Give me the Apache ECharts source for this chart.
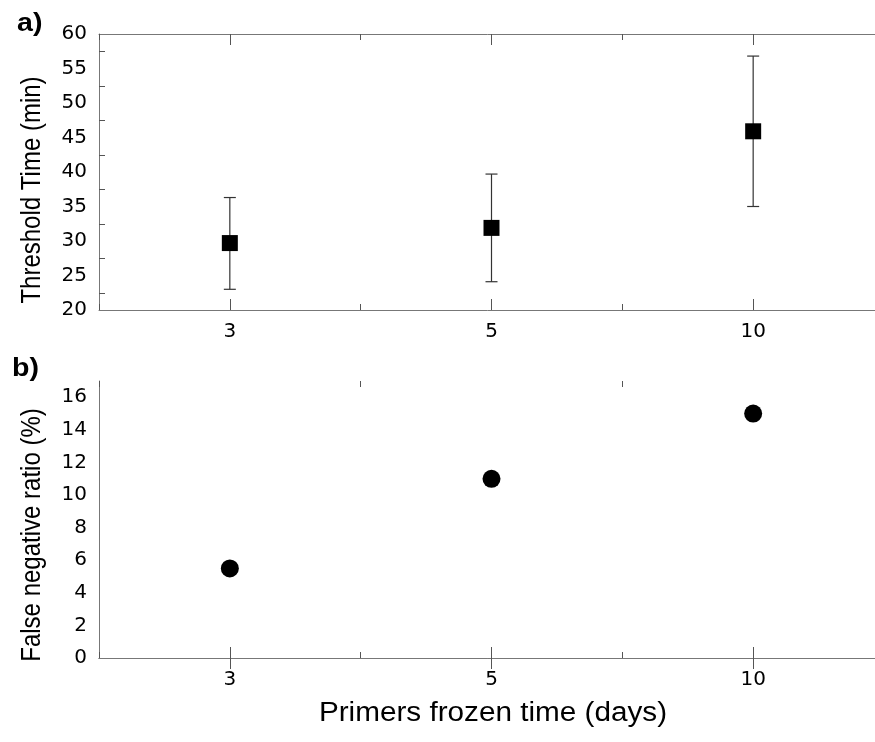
<!DOCTYPE html>
<html>
<head>
<meta charset="utf-8">
<script src="https://cdn.jsdelivr.net/npm/echarts@6/dist/echarts.min.js"></script>
<style>
html,body{margin:0;padding:0;background:#fff;overflow:hidden;}
#chart{width:875px;height:742px;}
</style>
</head>
<body>
<div id="chart"></div>
<script>
// ---- data ----
const categories = ['3', '5', '10'];
const thresholdMean = [29.7, 31.9, 45.9];
const thresholdLow = [23.0, 24.1, 35.0];
const thresholdHigh = [36.3, 39.7, 56.8];
const falseNegative = [5.5, 11.0, 15.0];
const panelLabels = ['a)', 'b)'];
const xTitle = 'Primers frozen time (days)';
const yTitles = ['Threshold Time (min)', 'False negative ratio (%)'];

// ---- build axis categories: boundary slots between the real categories ----
const axisCats = [];
categories.forEach((c, i) => { axisCats.push('gap' + i); axisCats.push(c); });
axisCats.push('gap' + categories.length);
const catIndex = i => 2 * i + 1;

const FONT = 'Liberation Sans, Arial, sans-serif';
const TICKFONT = 'DejaVu Sans, Liberation Sans, sans-serif';
const TICK = { color: '#555', width: 1 };
const FRAME = { show: true, lineStyle: { color: '#777', width: 1 } };
const isCat = i => i % 2 === 1;
const isGap = i => i % 2 === 0;

function xAxes(grid, withLabels) {
  const base = { gridIndex: grid, type: 'category', data: axisCats, boundaryGap: false,
    axisLine: { show: false }, splitLine: { show: false } };
  return [
    Object.assign({}, base, { position: 'bottom', axisLine: FRAME,
      axisTick: { inside: true, length: 11, interval: isCat, lineStyle: TICK },
      axisLabel: { show: withLabels, interval: isCat, fontSize: 20, color: '#000', margin: 12, fontFamily: TICKFONT } }),
    Object.assign({}, base, { position: 'bottom',
      axisTick: { inside: true, length: 6, interval: isGap, lineStyle: TICK }, axisLabel: { show: false } }),
    Object.assign({}, base, { position: 'top', axisLine: FRAME,
      axisTick: { inside: true, length: 11, interval: isCat, lineStyle: TICK }, axisLabel: { show: false } }),
    Object.assign({}, base, { position: 'top',
      axisTick: { inside: true, length: 6, interval: isGap, lineStyle: TICK }, axisLabel: { show: false } })
  ];
}

const yLabel = { fontSize: 20, color: '#000', margin: 12, fontFamily: TICKFONT };

const option = {
  backgroundColor: '#fff',
  animation: false,
  grid: [
    { left: 99, top: 34, width: 785, height: 276, show: false, outerBoundsMode: 'none', containLabel: false },
    { left: 99, top: 381, width: 785, height: 277, show: false, outerBoundsMode: 'none', containLabel: false }
  ],
  xAxis: [].concat(xAxes(0, true), xAxes(1, true)),
  yAxis: [
    { gridIndex: 0, type: 'value', min: 20, max: 60, interval: 5, position: 'left',
      axisLine: FRAME, splitLine: { show: false },
      axisTick: { inside: true, length: 11, lineStyle: TICK },
      minorTick: { show: true, splitNumber: 2, length: 6, lineStyle: TICK },
      axisLabel: yLabel },
    { gridIndex: 0, type: 'value', min: 20, max: 60, interval: 5, position: 'right',
      axisLine: { show: false }, splitLine: { show: false },
      axisTick: { inside: true, length: 11, lineStyle: TICK }, axisLabel: { show: false } },
    { gridIndex: 1, type: 'value', min: 0, max: 17, interval: 2, position: 'left',
      axisLine: FRAME, splitLine: { show: false },
      axisTick: { inside: true, length: 11, lineStyle: TICK },
      axisLabel: Object.assign({}, yLabel, { formatter: v => (v > 16 ? '' : String(v)) }) },
    { gridIndex: 1, type: 'value', min: 0, max: 17, interval: 1, position: 'left',
      axisLine: { show: false }, splitLine: { show: false },
      axisTick: { inside: true, length: 6, lineStyle: TICK }, axisLabel: { show: false } },
    { gridIndex: 1, type: 'value', min: 0, max: 17, interval: 2, position: 'right',
      axisLine: { show: false }, splitLine: { show: false },
      axisTick: { inside: true, length: 11, lineStyle: TICK }, axisLabel: { show: false } }
  ],
  series: [
    {
      type: 'custom', xAxisIndex: 0, yAxisIndex: 0, z: 2,
      data: categories.map((c, i) => [catIndex(i), thresholdLow[i], thresholdHigh[i]]),
      renderItem: function (params, api) {
        const x = api.value(0);
        const lo = api.coord([x, api.value(1)]);
        const hi = api.coord([x, api.value(2)]);
        const cap = 6;
        const st = { stroke: '#333', lineWidth: 1.2 };
        return { type: 'group', children: [
          { type: 'line', shape: { x1: lo[0], y1: lo[1], x2: hi[0], y2: hi[1] }, style: st },
          { type: 'line', shape: { x1: lo[0] - cap, y1: lo[1], x2: lo[0] + cap, y2: lo[1] }, style: st },
          { type: 'line', shape: { x1: hi[0] - cap, y1: hi[1], x2: hi[0] + cap, y2: hi[1] }, style: st }
        ] };
      }
    },
    {
      type: 'scatter', xAxisIndex: 0, yAxisIndex: 0, z: 3,
      symbol: 'rect', symbolSize: 16, itemStyle: { color: '#000', opacity: 1 },
      data: categories.map((c, i) => [catIndex(i), thresholdMean[i]])
    },
    {
      type: 'scatter', xAxisIndex: 4, yAxisIndex: 2, z: 3,
      symbol: 'circle', symbolSize: 18, itemStyle: { color: '#000', opacity: 1 },
      data: categories.map((c, i) => [catIndex(i), falseNegative[i]])
    }
  ],
  graphic: [
    { type: 'text', x: 17, y: 11, scaleX: 1.1, style: { text: panelLabels[0], fontSize: 26, fontWeight: 'bold', fill: '#000', fontFamily: FONT } },
    { type: 'text', x: 12, y: 356, scaleX: 1.1, style: { text: panelLabels[1], fontSize: 26, fontWeight: 'bold', fill: '#000', fontFamily: FONT } },
    { type: 'text', x: 493, y: 714, scaleX: 1.1, style: { text: xTitle, fontSize: 27, fill: '#000', fontFamily: FONT, align: 'center', verticalAlign: 'middle' } },
    { type: 'text', x: 33, y: 190, rotation: Math.PI / 2, scaleY: 1.12, style: { text: yTitles[0], fontSize: 24, fill: '#000', fontFamily: FONT, align: 'center', verticalAlign: 'middle' } },
    { type: 'text', x: 33, y: 535, rotation: Math.PI / 2, scaleY: 1.12, style: { text: yTitles[1], fontSize: 24, fill: '#000', fontFamily: FONT, align: 'center', verticalAlign: 'middle' } }
  ]
};

const chart = echarts.init(document.getElementById('chart'), null, { renderer: 'canvas' });
chart.setOption(option);
</script>
</body>
</html>
